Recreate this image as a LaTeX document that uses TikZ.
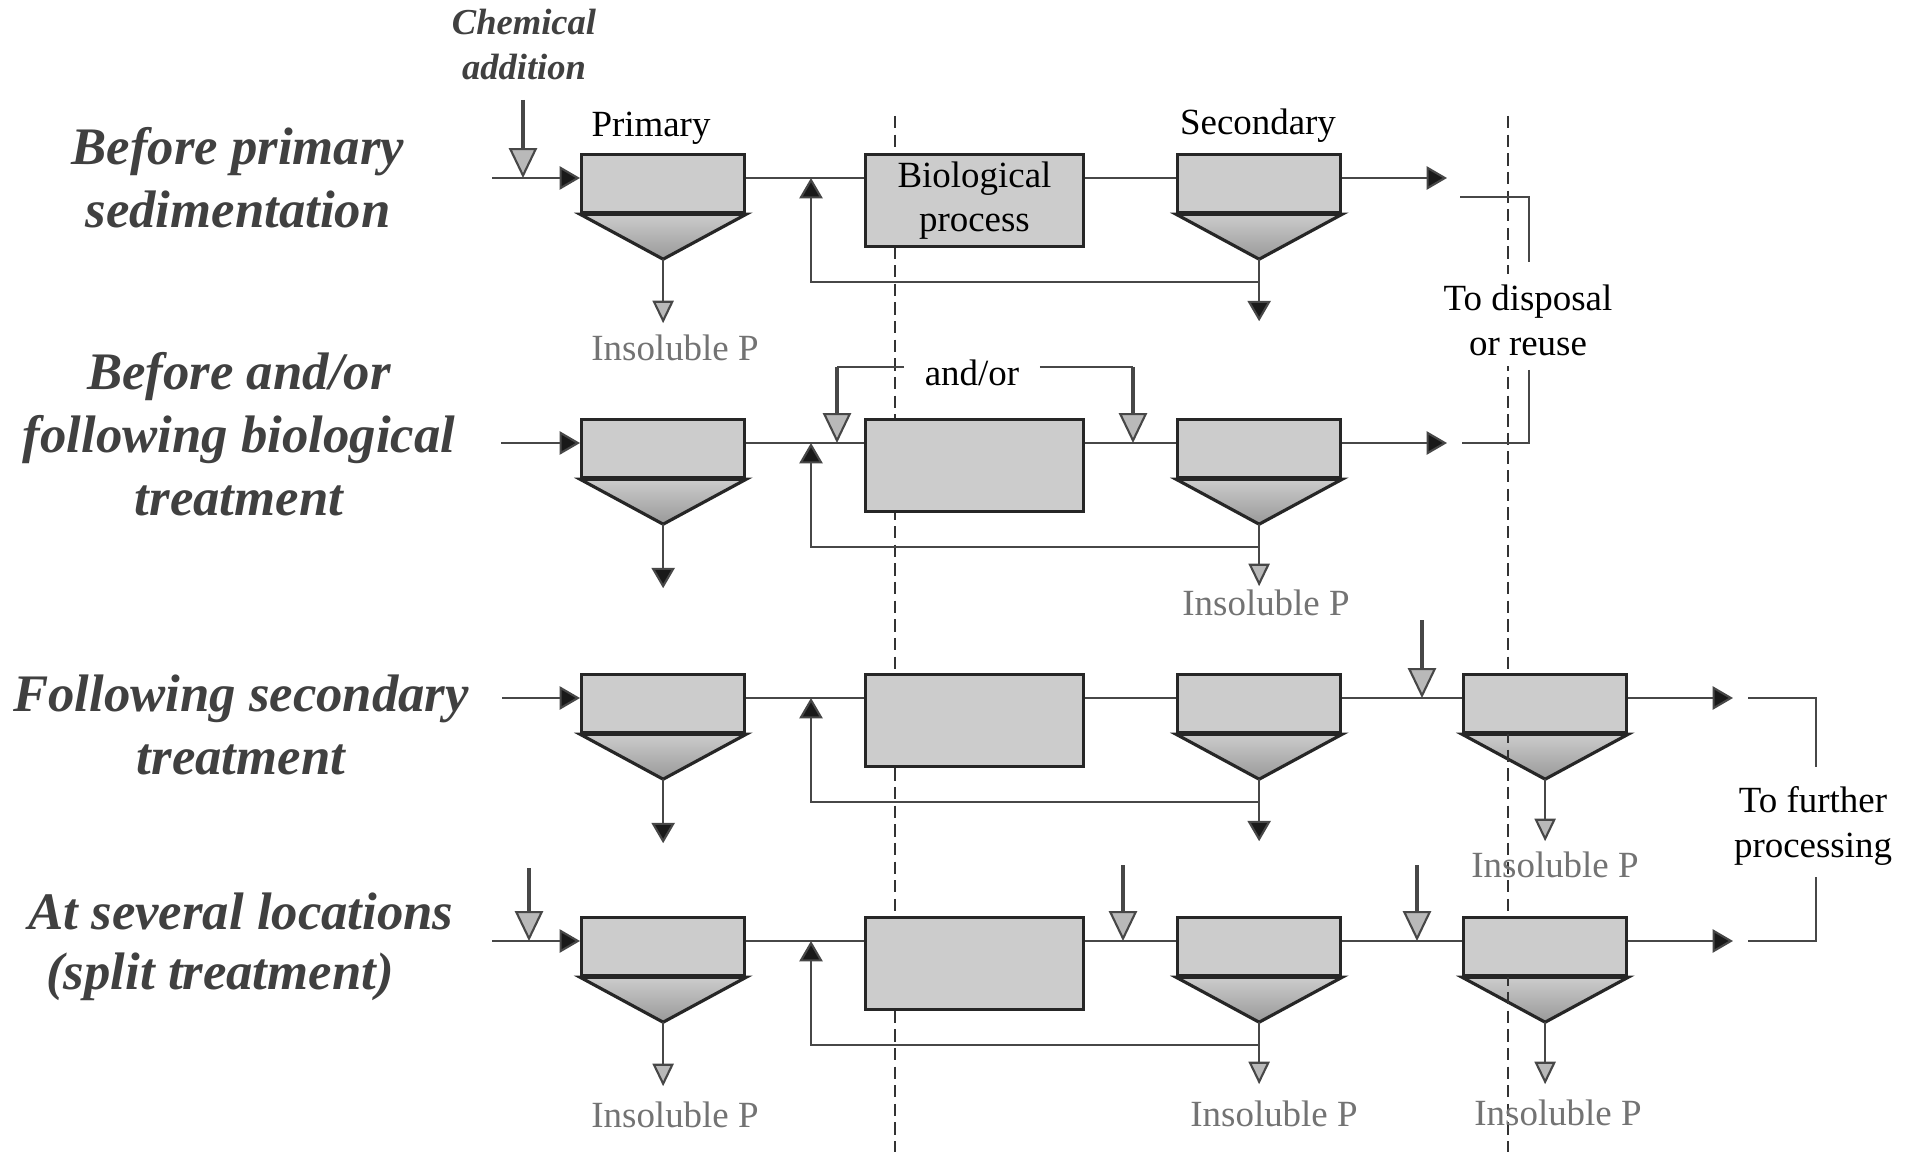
\documentclass[tikz,border=0pt]{standalone}
\usepackage{fontspec}
\setmainfont{Liberation Serif}
\usetikzlibrary{arrows.meta,calc}
\pgfdeclarelayer{bg}
\pgfsetlayers{bg,main}

\tikzset{
  flow/.style={draw=black!72, line width=0.6pt},
  arrblk/.style={flow, -{Triangle[length=5.8pt,width=6.6pt,fill=black!90]}},
  arrgray/.style={flow, -{Triangle[length=6.4pt,width=6pt,fill=gray!55]}},
  chemarr/.style={draw=black!72, line width=1.2pt, -{Triangle[length=8.5pt,width=8pt,fill=gray!55,line width=0.6pt]}},
  clarbox/.style={draw=black!85, fill=gray!40, line width=0.9pt, minimum width=1.63cm, minimum height=0.58cm, inner sep=0pt, anchor=north west},
  biobox/.style={draw=black!85, fill=gray!40, line width=0.8pt, minimum width=2.18cm, minimum height=0.92cm, inner sep=0pt, anchor=north west, align=center, font=\fontsize{10.5}{12.5}\selectfont},
  rowlabel/.style={font=\fontsize{15}{17.9}\selectfont\bfseries\itshape, text=black!75, align=center, inner sep=0pt},
  chemlabel/.style={font=\fontsize{10.4}{12.8}\selectfont\bfseries\itshape, text=black!75, align=center, inner sep=0pt},
  txt/.style={font=\fontsize{10.5}{12.8}\selectfont, align=center, inner sep=0pt},
  insol/.style={txt, text=black!55},
  divline/.style={draw=black!80, line width=0.7pt, dash pattern=on 3.5pt off 1.8pt}
}

\newcommand{\mkclar}[3]{%
  \node[clarbox] (#1) at (#2,#3-25) {};
  \coordinate (#1ap) at ($(#1.south west)!0.5!(#1.south east)+(0,45)$);
  \begin{pgfonlayer}{bg}
    \shadedraw[top color=gray!40, bottom color=gray!80, draw=black!85, line width=0.9pt]
      (#1.south west) -- (#1ap) -- (#1.south east) -- cycle;
  \end{pgfonlayer}
}

\begin{document}
\begin{tikzpicture}[x=0.01cm, y=-0.01cm]
\begin{pgfonlayer}{bg}
  \fill[white] (0,0) rectangle (1915,1152);
\end{pgfonlayer}
\useasboundingbox (0,0) rectangle (1915,1152);

% ---------------- row labels
\node[rowlabel] (L1) at (238,178) {Before primary\\sedimentation};
\node[rowlabel] (L2) at (239,434) {Before and/or\\following biological\\treatment};
\node[rowlabel] (L3) at (241,725) {Following secondary\\treatment};
\node[rowlabel] (L4a) at (241,911) {At several locations};
\node[rowlabel] (L4b) at (220,977) {(split treatment)};

\node[chemlabel] (chem) at (524,45) {Chemical\\addition};

% ---------------- row 1
\mkclar{p1}{580}{178}
\node[biobox] (b1) at (864,153) {Biological\\process};
\mkclar{s1}{1176}{178}
\node[txt] (prim) at (651,128) {Primary};
\node[txt] (sec) at (1258,126) {Secondary};
\coordinate (in1) at (492,178);
\coordinate (c1) at (523,100);
\coordinate (o1) at (1447,178);
\coordinate (rc1) at (811,178);
\draw[arrblk] (in1) -- (p1.west |- in1);
\draw[chemarr] (c1) -- (c1 |- in1);
\draw[flow] (p1.east |- in1) -- (b1.west |- in1);
\draw[flow] (b1.east |- in1) -- (s1.west |- in1);
\draw[arrblk] (s1.east |- in1) -- (o1);
\draw[arrblk] ($(s1ap)+(0,23)$) -| (rc1);
\draw[arrblk] (s1ap) -- ++(0,62);
\draw[arrgray] (p1ap) -- ++(0,64);
\node[insol] (ip1) at (675,348) {Insoluble P};

% bracket: to disposal
\node[txt, fill=white, inner xsep=0.04cm, inner ysep=0.1cm] (disp) at (1528,320) {To disposal\\or reuse};
\coordinate (k1a) at (1460,197);
\coordinate (k1b) at (1529,262);
\coordinate (k1c) at (1529,370);
\coordinate (k1d) at (1462,443);
\draw[flow] (k1a) -| (k1b);
\draw[flow] (k1c) |- (k1d);

% ---------------- row 2
\mkclar{p2}{580}{443}
\node[biobox] (b2) at (864,418) {};
\mkclar{s2}{1176}{443}
\coordinate (in2) at (501,443);
\coordinate (o2) at (1447,443);
\coordinate (rc2) at (811,443);
\draw[arrblk] (in2) -- (p2.west |- in2);
\draw[flow] (p2.east |- in2) -- (b2.west |- in2);
\draw[flow] (b2.east |- in2) -- (s2.west |- in2);
\draw[arrblk] (s2.east |- in2) -- (o2);
\draw[arrblk] ($(s2ap)+(0,23)$) -| (rc2);
\draw[arrblk] (p2ap) -- ++(0,64);
\draw[arrgray] (s2ap) -- ++(0,62);
\node[insol] (ip2) at (1266,603) {Insoluble P};
% and/or
\node[txt, inner xsep=0.2cm] (andor) at (972,373) {and/or};
\coordinate (a2l) at (837,367);
\coordinate (a2r) at (1133,367);
\draw[flow] (andor.west |- a2l) -- (a2l);
\draw[flow] (andor.east |- a2r) -- (a2r);
\draw[chemarr] (a2l) -- (a2l |- in2);
\draw[chemarr] (a2r) -- (a2r |- in2);

% ---------------- row 3
\mkclar{p3}{580}{698}
\node[biobox] (b3) at (864,673) {};
\mkclar{s3}{1176}{698}
\mkclar{t3}{1462}{698}
\coordinate (in3) at (502,698);
\coordinate (c3) at (1422,620);
\coordinate (o3) at (1733,698);
\coordinate (rc3) at (811,698);
\draw[arrblk] (in3) -- (p3.west |- in3);
\draw[flow] (p3.east |- in3) -- (b3.west |- in3);
\draw[flow] (b3.east |- in3) -- (s3.west |- in3);
\draw[flow] (s3.east |- in3) -- (t3.west |- in3);
\draw[chemarr] (c3) -- (c3 |- in3);
\draw[arrblk] (t3.east |- in3) -- (o3);
\draw[arrblk] ($(s3ap)+(0,23)$) -| (rc3);
\draw[arrblk] (p3ap) -- ++(0,64);
\draw[arrblk] (s3ap) -- ++(0,62);
\draw[arrgray] (t3ap) -- ++(0,62);
\node[insol] (ip3) at (1555,865) {Insoluble P};

% bracket: to further processing
\node[txt] (furth) at (1813,826) {To further\\processing};
\coordinate (k2a) at (1748,698);
\coordinate (k2b) at (1816,767);
\coordinate (k2c) at (1816,877);
\coordinate (k2d) at (1748,941);
\draw[flow] (k2a) -| (k2b);
\draw[flow] (k2c) |- (k2d);

% ---------------- row 4
\mkclar{p4}{580}{941}
\node[biobox] (b4) at (864,916) {};
\mkclar{s4}{1176}{941}
\mkclar{t4}{1462}{941}
\coordinate (in4) at (492,941);
\coordinate (c4a) at (529,868);
\coordinate (c4b) at (1123,865);
\coordinate (c4c) at (1417,865);
\coordinate (o4) at (1733,941);
\coordinate (rc4) at (811,941);
\draw[arrblk] (in4) -- (p4.west |- in4);
\draw[chemarr] (c4a) -- (c4a |- in4);
\draw[flow] (p4.east |- in4) -- (b4.west |- in4);
\draw[flow] (b4.east |- in4) -- (s4.west |- in4);
\draw[chemarr] (c4b) -- (c4b |- in4);
\draw[flow] (s4.east |- in4) -- (t4.west |- in4);
\draw[chemarr] (c4c) -- (c4c |- in4);
\draw[arrblk] (t4.east |- in4) -- (o4);
\draw[arrblk] ($(s4ap)+(0,23)$) -| (rc4);
\draw[arrgray] (p4ap) -- ++(0,64);
\draw[arrgray] (s4ap) -- ++(0,62);
\draw[arrgray] (t4ap) -- ++(0,62);
\node[insol] (ip4a) at (675,1115) {Insoluble P};
\node[insol] (ip4b) at (1274,1114) {Insoluble P};
\node[insol] (ip4c) at (1558,1113) {Insoluble P};

% ---------------- dashed dividers
\coordinate (d1t) at (895,116);
\coordinate (d1b) at (895,1152);
\coordinate (d2t) at (1508,116);
\coordinate (d2b) at (1508,1152);
\begin{pgfonlayer}{bg}
  \draw[divline] (d1t) -- (d1b);
  \draw[divline] (d2t) -- (d2b);
\end{pgfonlayer}
\end{tikzpicture}
\end{document}
